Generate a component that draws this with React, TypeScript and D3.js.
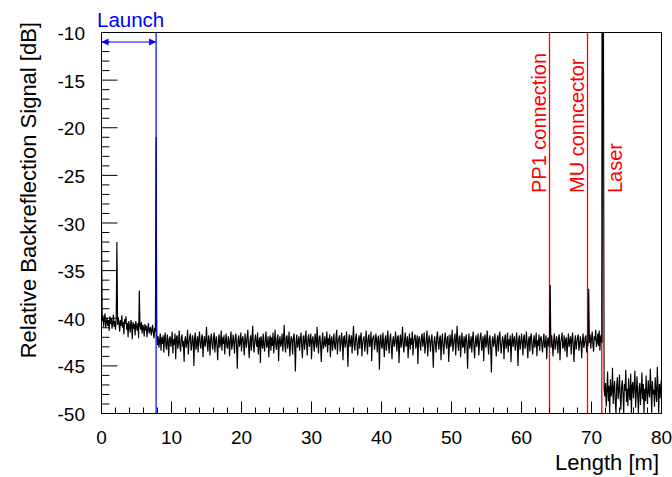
import React, { useEffect, useRef } from 'react';
import * as d3 from 'd3';

// OTDR trace, one sample every 0.1 m
const lengthStep = 0.1;

const launchStart = 0;
const launchTrace = [
  -30.5, -40.3, -39.7, -40.9, -40.1, -39.5, -41.0, -40.4, -39.9, -40.8, -40.2, -41.3, -39.8, -40.6, -40.0, -41.1, -40.5, -39.6, -40.9, -40.3,
  -41.2, -40.1, -32.0, -40.7, -39.9, -40.5, -41.4, -40.2, -40.8, -39.7, -41.0, -40.4, -41.7, -40.1, -40.6, -39.8, -41.2, -40.5, -42.0, -40.3,
  -40.9, -41.5, -40.2, -40.7, -42.2, -40.4, -41.1, -40.6, -41.8, -40.3, -40.9, -41.3, -40.5, -42.1, -37.1, -40.8, -41.2, -40.4, -41.6, -40.7,
  -41.0, -41.9, -40.6, -41.3, -40.8, -42.0, -41.1, -40.5, -41.6, -41.2, -40.9, -41.8, -41.3, -40.7, -41.5, -42.1, -41.0, -41.4, -21.0, -41.6,
];

const fiberStart = 8;
const fiberTrace = [
  -42.8, -41.9, -43.1, -42.3, -41.6, -43.4, -42.0, -42.7, -41.8, -43.6, -42.2, -41.5, -42.9, -43.3, -41.7, -42.4, -44.0, -42.1, -41.9, -43.0,
  -42.5, -41.4, -43.7, -42.2, -42.8, -41.6, -44.3, -42.0, -41.8, -43.2, -42.6, -41.3, -42.9, -43.5, -42.1, -41.7, -43.0, -42.4, -44.6, -42.3,
  -41.9, -43.1, -42.5, -41.2, -43.8, -42.6, -42.0, -41.6, -43.4, -42.9, -41.8, -42.3, -45.0, -42.1, -41.5, -43.3, -42.7, -41.9, -43.6, -42.2,
  -41.4, -42.8, -43.2, -42.0, -41.7, -44.1, -42.5, -41.9, -43.0, -42.4, -40.9, -42.7, -43.5, -41.8, -42.3, -43.9, -42.1, -41.6, -42.8, -43.3,
  -42.0, -41.5, -43.6, -42.4, -41.9, -42.9, -44.4, -42.2, -41.7, -43.1, -42.6, -41.3, -43.4, -42.0, -42.7, -41.8, -43.8, -42.5, -41.6, -42.9,
  -43.2, -41.9, -42.4, -44.0, -42.1, -41.4, -43.3, -42.8, -41.7, -42.5, -43.7, -42.0, -41.6, -42.9, -45.3, -42.3, -41.8, -43.0, -42.6, -41.5,
  -43.5, -42.2, -41.9, -42.7, -43.9, -41.6, -42.4, -43.1, -42.0, -41.2, -42.8, -44.2, -42.5, -41.8, -43.4, -42.1, -40.8, -42.9, -43.6, -42.3,
  -41.7, -42.6, -43.0, -41.5, -43.8, -42.4, -42.0, -44.7, -41.9, -42.5, -43.2, -41.6, -42.8, -43.5, -42.1, -41.4, -43.1, -42.7, -41.9, -44.1,
  -42.3, -41.8, -43.4, -42.0, -42.9, -41.5, -43.7, -42.6, -41.2, -42.8, -43.3, -42.1, -41.7, -44.5, -42.4, -41.9, -43.0, -42.6, -41.6, -43.5,
  -42.2, -40.7, -42.9, -43.6, -42.0, -41.8, -43.2, -42.5, -41.4, -44.0, -42.7, -41.9, -42.3, -43.8, -42.1, -41.6, -42.8, -45.6, -42.4, -41.7,
  -43.1, -42.6, -41.9, -43.4, -42.2, -41.5, -42.9, -44.2, -42.0, -41.8, -43.3, -42.5, -41.3, -42.7, -43.9, -42.1, -41.7, -43.0, -42.4, -41.6,
  -44.3, -42.3, -41.9, -42.8, -43.5, -41.6, -42.2, -43.1, -40.9, -42.6, -43.7, -42.0, -41.8, -42.9, -44.6, -42.4, -41.5, -43.2, -42.7, -41.9,
  -43.0, -42.5, -41.4, -43.6, -42.1, -42.8, -41.7, -44.1, -42.3, -41.9, -43.4, -42.6, -41.6, -42.9, -43.3, -42.0, -41.2, -43.8, -42.5, -42.1,
  -41.8, -43.5, -42.7, -41.5, -42.4, -44.4, -42.0, -41.9, -43.1, -42.6, -41.4, -42.8, -45.1, -42.3, -41.7, -43.0, -42.5, -41.8, -43.7, -42.2,
  -40.8, -42.9, -43.4, -42.1, -41.6, -42.7, -43.9, -42.4, -41.8, -43.2, -42.0, -41.5, -44.0, -42.6, -42.2, -41.9, -43.5, -42.8, -41.3, -42.5,
  -43.8, -42.1, -41.7, -43.0, -42.6, -41.4, -44.5, -42.3, -42.0, -41.8, -43.3, -42.7, -41.6, -42.4, -43.6, -42.0, -41.9, -45.4, -42.5, -41.7,
  -42.9, -43.2, -41.5, -42.6, -44.1, -42.2, -41.8, -43.4, -42.5, -41.3, -42.8, -43.7, -42.1, -41.6, -42.9, -44.3, -42.4, -41.9, -43.0, -42.7,
  -41.4, -42.3, -43.5, -42.0, -41.8, -44.7, -42.6, -41.7, -43.1, -42.4, -40.9, -42.8, -43.6, -42.2, -41.5, -43.0, -42.7, -41.9, -44.2, -42.5,
  -41.6, -43.3, -42.1, -42.8, -41.4, -43.9, -42.5, -42.0, -41.7, -43.2, -42.6, -41.8, -44.8, -42.3, -41.9, -42.7, -43.4, -42.0, -41.6, -43.0,
  -42.4, -41.5, -43.7, -42.9, -42.1, -41.3, -44.0, -42.6, -41.8, -42.5, -43.5, -42.2, -41.7, -43.1, -45.2, -42.4, -41.9, -42.8, -43.6, -42.0,
  -41.4, -42.7, -43.3, -42.1, -41.8, -44.4, -42.5, -41.6, -42.9, -43.8, -42.3, -41.5, -42.6, -43.2, -42.0, -41.9, -44.6, -42.7, -41.7, -43.0,
  -42.4, -41.2, -43.5, -42.8, -42.1, -41.6, -43.9, -42.3, -40.8, -42.7, -43.4, -42.0, -41.8, -44.1, -42.6, -41.5, -43.1, -42.9, -41.9, -43.7,
  -42.2, -41.7, -42.8, -45.3, -42.4, -41.6, -43.2, -42.7, -41.9, -43.6, -42.1, -41.4, -42.9, -44.2, -42.5, -41.8, -43.0, -42.3, -41.6, -43.9,
  -42.6, -42.0, -41.5, -43.4, -42.8, -41.9, -44.5, -42.2, -41.7, -43.1, -42.6, -41.3, -42.7, -43.8, -42.1, -41.8, -43.3, -45.7, -42.4, -41.9,
  -43.0, -42.5, -41.6, -42.9, -44.0, -42.3, -41.8, -43.5, -42.0, -41.4, -42.8, -43.7, -42.6, -41.9, -42.4, -44.3, -42.1, -41.7, -43.2, -42.7,
  -41.5, -43.6, -42.2, -42.9, -41.8, -44.6, -42.5, -41.6, -43.0, -42.3, -41.9, -43.4, -42.8, -41.5, -42.6, -45.0, -42.2, -41.8, -43.3, -42.7,
  -41.6, -42.4, -43.9, -42.1, -41.7, -43.2, -42.8, -41.4, -42.6, -44.2, -42.3, -41.9, -43.5, -42.0, -41.6, -42.9, -43.8, -42.4, -41.8, -43.1,
  -42.6, -41.5, -44.0, -42.3, -42.9, -41.7, -43.4, -42.1, -41.9, -42.8, -43.6, -42.4, -41.6, -43.1, -42.7, -41.8, -44.3, -42.5, -42.0, -43.0,
];

const connectorStart = 64;
const connectorTrace = [
  -42.1, -36.5, -43.1, -41.8, -42.7, -44.0, -42.2, -41.6, -43.3, -42.8, -41.9, -42.5, -43.7, -42.0, -41.7, -44.4, -42.6, -42.1, -41.5, -43.2,
  -42.9, -41.8, -43.5, -42.3, -42.0, -44.1, -42.7, -41.6, -43.0, -42.4, -41.9, -43.8, -42.2, -41.5, -42.9, -44.6, -42.5, -41.8, -43.3, -42.6,
  -42.0, -41.7, -43.4, -42.8, -41.9, -42.5, -44.2, -42.3, -41.6, -43.1, -42.7, -42.0, -41.8, -43.6, -42.4, -42.9, -36.9, -42.6, -41.7, -43.2,
  -42.1, -41.4, -42.8, -43.5, -41.9, -42.3, -41.2, -43.0, -42.5, -41.6, -42.9, -41.3, -43.4, -42.0, -41.7, -42.6, -5.0, -5.0, -47.5, -48.2,
];

const tailStart = 72;
const tailTrace = [
  -46.8, -49.3, -47.5, -45.6, -48.7, -47.1, -50.0, -46.4, -48.2, -47.8, -45.2, -49.0, -47.3, -46.6, -48.9, -50.0, -47.0, -46.2, -48.5, -47.7,
  -45.9, -48.3, -49.6, -47.2, -46.5, -48.0, -50.0, -46.9, -47.6, -45.4, -48.8, -47.4, -49.2, -46.3, -47.9, -48.6, -45.8, -50.0, -47.1, -46.7,
  -48.4, -47.0, -45.5, -49.4, -47.8, -46.1, -48.1, -50.0, -47.3, -46.8, -49.1, -47.6, -45.7, -48.5, -46.9, -50.0, -47.4, -48.7, -46.0, -47.9,
  -49.0, -46.5, -47.7, -48.3, -45.3, -47.2, -50.0, -46.6, -48.0, -47.5, -49.3, -46.2, -47.8, -48.8, -45.1, -47.3, -50.0, -46.9, -48.4, -47.0,
  -46.4,
];

const xTicks = [0, 10, 20, 30, 40, 50, 60, 70, 80];
const yTicks = [-10, -15, -20, -25, -30, -35, -40, -45, -50];

const launchLength = 7.8;
const launchArrowLevel = -11;
const markerLabels = ['PP1 connection', 'MU conncector', 'Laser'];
const markerLengths = [64.0, 69.43, 71.47];

function App() {
  const svgRef = useRef<SVGSVGElement>(null);

  useEffect(() => {
    const svg = d3.select(svgRef.current);
    svg.selectAll('*').remove();

    const width = 672,
      height = 477;
    const margin = { top: 32.5, right: 10.5, bottom: 63.5, left: 101.5 };
    const font = "'Liberation Sans', Arial, Helvetica, sans-serif";

    const x = d3.scaleLinear().domain([0, 80]).range([margin.left, width - margin.right]);
    const y = d3.scaleLinear().domain([-10, -50]).range([margin.top, height - margin.bottom]);

    const segments: [number, number[]][] = [
      [launchStart, launchTrace],
      [fiberStart, fiberTrace],
      [connectorStart, connectorTrace],
      [tailStart, tailTrace],
    ];
    const points: [number, number][] = [];
    segments.forEach(([start, values]) => {
      values.forEach((v, i) => points.push([start + i * lengthStep, v]));
    });

    svg
      .append('defs')
      .append('clipPath')
      .attr('id', 'plot-clip')
      .append('rect')
      .attr('x', x(0))
      .attr('y', y(-10))
      .attr('width', x(80) - x(0))
      .attr('height', y(-50) - y(-10));

    // connector markers (under the trace)
    markerLengths.forEach((len, i) => {
      svg
        .append('line')
        .attr('x1', x(len))
        .attr('x2', x(len))
        .attr('y1', y(-10))
        .attr('y2', y(-50))
        .attr('stroke', '#ff0000')
        .attr('stroke-width', 1.3);
      const tx = i < 2 ? x(len) - 4 : x(len) + 20.5;
      svg
        .append('text')
        .attr('transform', `translate(${tx},193) rotate(-90)`)
        .attr('font-family', font)
        .attr('font-size', 20)
        .attr('fill', '#ff0000')
        .text(markerLabels[i]);
    });

    // trace
    const line = d3
      .line<[number, number]>()
      .x((d) => x(d[0]))
      .y((d) => y(Math.max(d[1], -50)));
    svg
      .append('path')
      .attr('clip-path', 'url(#plot-clip)')
      .attr('d', line(points))
      .attr('fill', 'none')
      .attr('stroke', '#000')
      .attr('stroke-width', 1.15);

    // frame
    svg
      .append('rect')
      .attr('x', x(0))
      .attr('y', y(-10))
      .attr('width', x(80) - x(0))
      .attr('height', y(-50) - y(-10))
      .attr('fill', 'none')
      .attr('stroke', '#000')
      .attr('stroke-width', 1);

    // x ticks (major every 10, minor every 2)
    const xMinor = d3.range(0, 81, 2);
    svg
      .append('g')
      .selectAll('line')
      .data(xMinor)
      .enter()
      .append('line')
      .attr('x1', (d) => x(d))
      .attr('x2', (d) => x(d))
      .attr('y1', y(-50))
      .attr('y2', (d) => y(-50) - (d % 10 === 0 ? 12 : 6))
      .attr('stroke', '#000');
    svg
      .append('g')
      .selectAll('text')
      .data(xTicks)
      .enter()
      .append('text')
      .attr('x', (d) => x(d))
      .attr('y', 444)
      .attr('text-anchor', 'middle')
      .attr('font-family', font)
      .attr('font-size', 19)
      .text((d) => d);

    // y ticks (major every 5, minor every 1)
    const yMinor = d3.range(-10, -51, -1);
    svg
      .append('g')
      .selectAll('line')
      .data(yMinor)
      .enter()
      .append('line')
      .attr('x1', x(0))
      .attr('x2', (d) => x(0) + (d % 5 === 0 ? 16 : 8))
      .attr('y1', (d) => y(d))
      .attr('y2', (d) => y(d))
      .attr('stroke', '#000');
    svg
      .append('g')
      .selectAll('text')
      .data(yTicks)
      .enter()
      .append('text')
      .attr('x', 85)
      .attr('y', (d) => y(d) + 1)
      .attr('text-anchor', 'end')
      .attr('dominant-baseline', 'central')
      .attr('font-family', font)
      .attr('font-size', 19)
      .text((d) => d);

    // launch fibre marker
    svg
      .append('line')
      .attr('x1', x(launchLength))
      .attr('x2', x(launchLength))
      .attr('y1', y(-10))
      .attr('y2', y(-50))
      .attr('stroke', '#0000ff')
      .attr('stroke-width', 1.2);
    const ay = y(launchArrowLevel);
    svg
      .append('line')
      .attr('x1', x(0))
      .attr('x2', x(launchLength))
      .attr('y1', ay)
      .attr('y2', ay)
      .attr('stroke', '#0000ff')
      .attr('stroke-width', 1);
    const head = 7,
      half = 3.5;
    svg
      .append('path')
      .attr(
        'd',
        `M${x(0)},${ay}L${x(0) + head},${ay - half}L${x(0) + head},${ay + half}Z` +
          `M${x(launchLength)},${ay}L${x(launchLength) - head},${ay - half}L${x(launchLength) - head},${ay + half}Z`
      )
      .attr('fill', '#0000ff');
    svg
      .append('text')
      .attr('x', 97)
      .attr('y', 27)
      .attr('font-family', font)
      .attr('font-size', 20.5)
      .attr('fill', '#0000ff')
      .text('Launch');

    // axis titles
    svg
      .append('text')
      .attr('x', 659)
      .attr('y', 470)
      .attr('text-anchor', 'end')
      .attr('font-family', font)
      .attr('font-size', 22)
      .text('Length [m]');
    svg
      .append('text')
      .attr('transform', 'translate(36,22) rotate(-90)')
      .attr('text-anchor', 'end')
      .attr('font-family', font)
      .attr('font-size', 22)
      .text('Relative Backreflection Signal [dB]');
  }, []);

  return (
    <svg
      ref={svgRef}
      width={672}
      height={477}
      style={{ position: 'absolute', left: 0, top: 0, background: '#fff' }}
    />
  );
}

export default App;
